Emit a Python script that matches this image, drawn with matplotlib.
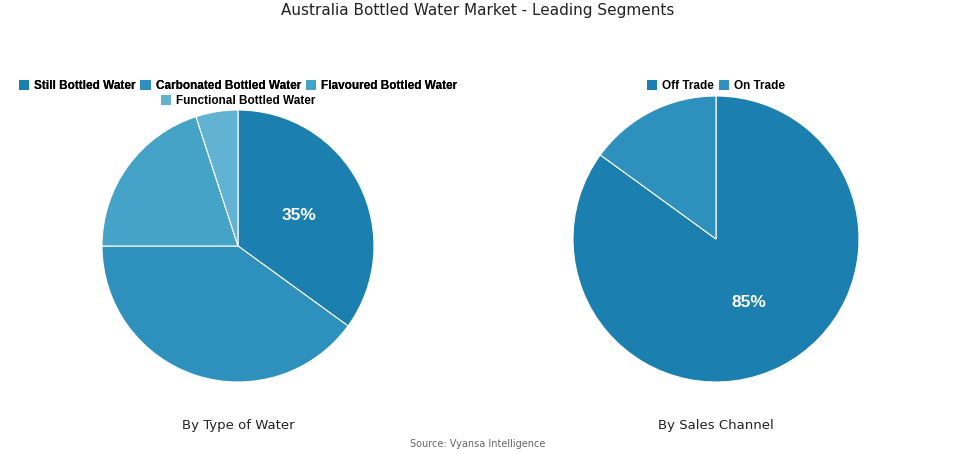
import matplotlib
matplotlib.use("Agg")
import matplotlib.pyplot as plt
from matplotlib.patches import Patch

type_labels = ["Still Bottled Water", "Carbonated Bottled Water", "Flavoured Bottled Water", "Functional Bottled Water"]
type_values = [35, 40, 20, 5]
type_colors = ["#1b7fb0", "#2e90bc", "#45a3c8", "#62b3d3"]

channel_labels = ["Off Trade", "On Trade"]
channel_values = [85, 15]
channel_colors = ["#1b7fb0", "#2e90bc"]

W, H = 955, 454
fig = plt.figure(figsize=(W / 100, H / 100), dpi=100)
fig.patch.set_facecolor("white")


def pie_ax(cx, cy, r, vals, cols, label_idx):
    ax = fig.add_axes([(cx - r) / W, 1 - (cy + r) / H, 2 * r / W, 2 * r / H])
    wedges, texts, autotexts = ax.pie(
        vals, colors=cols, startangle=90, counterclock=False,
        wedgeprops=dict(edgecolor="white", linewidth=0.8),
        autopct=lambda p: "", pctdistance=0.5)
    for i, t in enumerate(autotexts):
        if i == label_idx:
            t.set_text(f"{vals[i]}%")
            t.set_color("white")
            t.set_fontsize(12.5)
            t.set_fontweight("bold")
            t.set_family("Liberation Sans")
    ax.set_xlim(-1, 1)
    ax.set_ylim(-1, 1)
    ax.set_aspect("equal")
    return ax


pie_ax(238, 246, 136, type_values, type_colors, 0)
pie_ax(716, 239, 143, channel_values, channel_colors, 0)

fig.text(0.5, 1 - 11 / H, "Australia Bottled Water Market - Leading Segments",
         ha="center", va="center", fontsize=11, color="#222222")
fig.text(238 / W, 1 - 425 / H, "By Type of Water", ha="center", va="center", fontsize=9.5, color="#222222")
fig.text(716 / W, 1 - 425 / H, "By Sales Channel", ha="center", va="center", fontsize=9.5, color="#222222")
fig.text(0.5, 1 - 444 / H, "Source: Vyansa Intelligence", ha="center", va="center", fontsize=7, color="#666666")

prop = dict(family="Liberation Sans", size=8.5, weight="bold")
kw = dict(frameon=False, prop=prop, handlelength=0.9, handleheight=0.9, handletextpad=0.4, columnspacing=0.4)
h1 = [Patch(facecolor=c, label=l) for c, l in zip(type_colors, type_labels)]
leg1 = fig.legend(handles=h1[:3], loc="center", bbox_to_anchor=(238 / W, 1 - 86 / H), ncol=3, **kw)
fig.add_artist(leg1)
fig.legend(handles=h1[3:], loc="center", bbox_to_anchor=(238 / W, 1 - 101 / H), ncol=1, **kw)
h2 = [Patch(facecolor=c, label=l) for c, l in zip(channel_colors, channel_labels)]
fig.legend(handles=h2, loc="center", bbox_to_anchor=(716 / W, 1 - 86 / H), ncol=2, **kw)

fig.savefig("out.png", dpi=100)
